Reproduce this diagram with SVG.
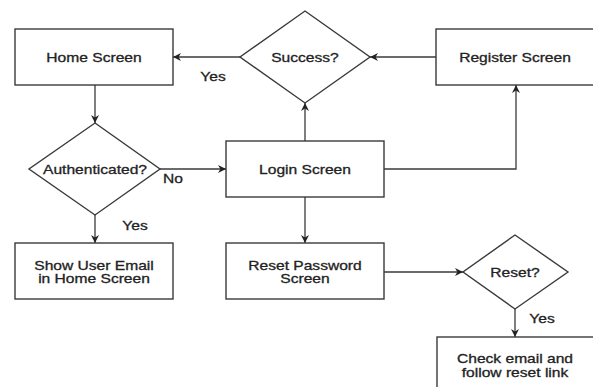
<svg xmlns="http://www.w3.org/2000/svg" width="593" height="387" viewBox="0 0 593 387">
<style>
.box{fill:#fff;stroke:#3a3a3a;stroke-width:1.4}
.t{font-family:"Liberation Sans",Arial,sans-serif;font-size:13px;fill:#222;stroke:#222;stroke-width:0.3;text-anchor:middle}
.c{fill:none;stroke:#3a3a3a;stroke-width:1.3}
</style>
<defs>
<marker id="ah" viewBox="0 0 10 10" refX="10" refY="5" markerWidth="8" markerHeight="8" markerUnits="userSpaceOnUse" orient="auto">
<path d="M0,0 L10,5 L0,10 L3,5 z" fill="#222"/>
</marker>
</defs>
<rect width="593" height="387" fill="#fff"/>
<g id="connectors">
<path class="c" d="M240,57 L173,57" marker-end="url(#ah)"/>
<path class="c" d="M436,57 L370,57" marker-end="url(#ah)"/>
<path class="c" d="M95,85 L95,123" marker-end="url(#ah)"/>
<path class="c" d="M160,169 L226,169" marker-end="url(#ah)"/>
<path class="c" d="M95,215 L95,243" marker-end="url(#ah)"/>
<path class="c" d="M305,141 L305,103" marker-end="url(#ah)"/>
<path class="c" d="M384,169 L516,169 L516,85" marker-end="url(#ah)"/>
<path class="c" d="M305,197 L305,243" marker-end="url(#ah)"/>
<path class="c" d="M384,272 L463,272" marker-end="url(#ah)"/>
<path class="c" d="M515,309 L515,337" marker-end="url(#ah)"/>
<text class="t" transform="translate(213,80.5) scale(1.2,1)">Yes</text>
<text class="t" transform="translate(173,182.5) scale(1.2,1)">No</text>
<text class="t" transform="translate(135,229.5) scale(1.2,1)">Yes</text>
<text class="t" transform="translate(542,322.5) scale(1.2,1)">Yes</text>
</g>
<g id="home">
<rect class="box" x="15" y="29" width="158" height="56"/>
<text class="t" transform="translate(94,61.5) scale(1.2,1)">Home Screen</text>
</g>
<g id="success">
<polygon class="box" points="305,11 370,57 305,103 240,57"/>
<text class="t" transform="translate(305,61.5) scale(1.2,1)">Success?</text>
</g>
<g id="register">
<rect class="box" x="436" y="29" width="158" height="56"/>
<text class="t" transform="translate(515,61.5) scale(1.2,1)">Register Screen</text>
</g>
<g id="authenticated">
<polygon class="box" points="95,123 160,169 95,215 29,169"/>
<text class="t" transform="translate(95,173.5) scale(1.2,1)">Authenticated?</text>
</g>
<g id="login">
<rect class="box" x="226" y="141" width="158" height="56"/>
<text class="t" transform="translate(305,173.5) scale(1.2,1)">Login Screen</text>
</g>
<g id="showemail">
<rect class="box" x="15" y="243" width="158" height="56"/>
<text class="t" transform="translate(94,269.5) scale(1.2,1)">Show User Email</text>
<text class="t" transform="translate(94,282.5) scale(1.2,1)">in Home Screen</text>
</g>
<g id="resetpassword">
<rect class="box" x="226" y="243" width="158" height="56"/>
<text class="t" transform="translate(305,269.5) scale(1.2,1)">Reset Password</text>
<text class="t" transform="translate(305,282.5) scale(1.2,1)">Screen</text>
</g>
<g id="reset">
<polygon class="box" points="515,235 568,272 515,309 463,272"/>
<text class="t" transform="translate(515,276.5) scale(1.2,1)">Reset?</text>
</g>
<g id="checkemail">
<rect class="box" x="437" y="337" width="158" height="60"/>
<text class="t" transform="translate(515,362.5) scale(1.2,1)">Check email and</text>
<text class="t" transform="translate(515,376.5) scale(1.2,1)">follow reset link</text>
</g>
</svg>
